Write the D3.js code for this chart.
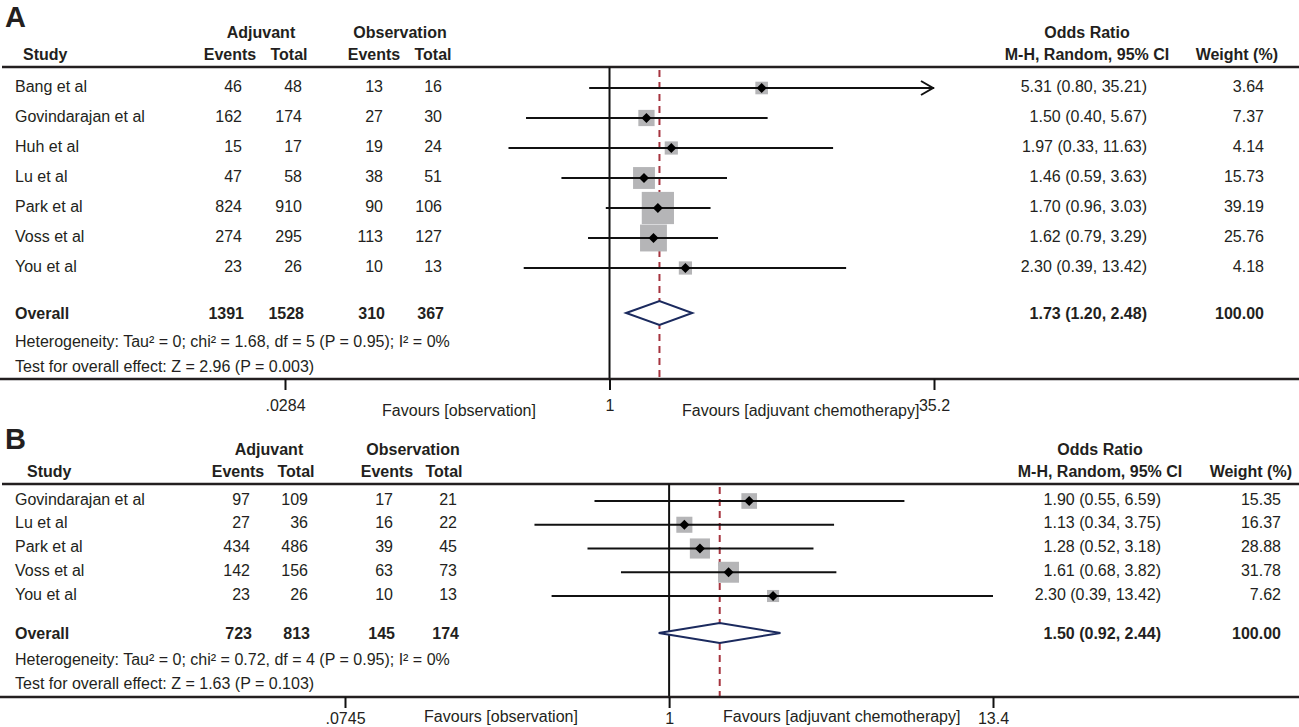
<!DOCTYPE html>
<html>
<head>
    <meta charset="utf-8">
    <title>Forest plots: adjuvant chemotherapy vs observation</title>
    <style>
        body { margin: 0; background: #fff; }
        svg { display: block; font-family: "Liberation Sans", Arial, sans-serif; }
        text { fill: #231f20; }
    </style>
    <script src="https://cdn.jsdelivr.net/npm/d3@7"></script>
</head>
<body>
<script>

    // ---- panel A data ----
    var studiesA = ["Bang et al", "Govindarajan et al", "Huh et al", "Lu et al", "Park et al", "Voss et al", "You et al"]
    var adjEventsA = [46, 162, 15, 47, 824, 274, 23]
    var adjTotalA = [48, 174, 17, 58, 910, 295, 26]
    var obsEventsA = [13, 27, 19, 38, 90, 113, 10]
    var obsTotalA = [16, 30, 24, 51, 106, 127, 13]
    var orA = [5.31, 1.50, 1.97, 1.46, 1.70, 1.62, 2.30]
    var lowerA = [0.80, 0.40, 0.33, 0.59, 0.96, 0.79, 0.39]
    var upperA = [35.21, 5.67, 11.63, 3.63, 3.03, 3.29, 13.42]
    var weightA = [3.64, 7.37, 4.14, 15.73, 39.19, 25.76, 4.18]
    var clippedA = ["Bang et al"]   // CI drawn with an arrow
    var overallA = [1391, 1528, 310, 367]
    var pooledA = [1.73, 1.20, 2.48]
    var ticksA = [0.0284, 1, 35.2]
    var tickLabelsA = [".0284", "1", "35.2"]
    var notesA = ["Heterogeneity: Tau\u00b2 = 0; chi\u00b2 = 1.68, df = 5 (P = 0.95); I\u00b2 = 0%",
        "Test for overall effect: Z = 2.96 (P = 0.003)"]

    // ---- panel B data ----
    var studiesB = ["Govindarajan et al", "Lu et al", "Park et al", "Voss et al", "You et al"]
    var adjEventsB = [97, 27, 434, 142, 23]
    var adjTotalB = [109, 36, 486, 156, 26]
    var obsEventsB = [17, 16, 39, 63, 10]
    var obsTotalB = [21, 22, 45, 73, 13]
    var orB = [1.90, 1.13, 1.28, 1.61, 2.30]
    var lowerB = [0.55, 0.34, 0.52, 0.68, 0.39]
    var upperB = [6.59, 3.75, 3.18, 3.82, 13.42]
    var weightB = [15.35, 16.37, 28.88, 31.78, 7.62]
    var clippedB = []
    var overallB = [723, 813, 145, 174]
    var pooledB = [1.50, 0.92, 2.44]
    var ticksB = [0.0745, 1, 13.4]
    var tickLabelsB = [".0745", "1", "13.4"]
    var notesB = ["Heterogeneity: Tau\u00b2 = 0; chi\u00b2 = 0.72, df = 4 (P = 0.95); I\u00b2 = 0%",
        "Test for overall effect: Z = 1.63 (P = 0.103)"]

    var width = 1299,
        height = 727,
        fontSize = 16

    var svg = d3.select('body').append('svg')
        .attr('width', width)
        .attr('height', height)

    var f2 = d3.format(".2f")

    function label(g, x, y, txt, anchor, bold, size) {
        return g.append('text')
            .attr('x', x)
            .attr('y', y)
            .attr('dy', '0.35em')
            .attr('text-anchor', anchor || 'start')
            .attr('font-size', size || fontSize)
            .attr('font-weight', bold ? 'bold' : 'normal')
            .text(txt)
    }

    function drawPanel(p) {
        var g = svg.append('g')
        var c = p.cols

        var x = d3.scaleLog().domain([p.ticks[0], p.ticks[2]]).range(p.xRange)
        var y = d3.scalePoint().domain(p.studies).range(p.rowRange)
        var side = d3.scaleSqrt().domain([0, p.wMax]).range(p.sideRange)

        // headers
        label(g, 5, p.letterY, p.letter, 'start', true, 29)
        label(g, c.adjHead, p.head1, "Adjuvant", 'middle', true)
        label(g, c.obsHead, p.head1, "Observation", 'middle', true)
        label(g, c.orHead, p.head1, "Odds Ratio", 'middle', true)
        label(g, c.studyHead, p.head2, "Study", 'start', true)
        label(g, c.evHead, p.head2, "Events", 'middle', true)
        label(g, c.totHead, p.head2, "Total", 'middle', true)
        label(g, c.oevHead, p.head2, "Events", 'middle', true)
        label(g, c.otHead, p.head2, "Total", 'middle', true)
        label(g, c.orHead, p.head2, "M-H, Random, 95% CI", 'middle', true)
        label(g, c.wHead, p.head2, "Weight (%)", 'end', true)

        g.append('line')
            .attr('x1', 2).attr('x2', width)
            .attr('y1', p.headLine).attr('y2', p.headLine)
            .attr('stroke', '#231f20')
            .attr('stroke-width', 2.5)

        // table rows
        p.studies.forEach(function (s, i) {
            var ty = y(s) - 2
            label(g, c.name, ty, s)
            label(g, c.adjE, ty, p.adjEvents[i], 'end')
            label(g, c.adjT, ty, p.adjTotal[i], 'end')
            label(g, c.obsE, ty, p.obsEvents[i], 'end')
            label(g, c.obsT, ty, p.obsTotal[i], 'end')
            label(g, c.or, ty, f2(p.or[i]) + " (" + f2(p.lower[i]) + ", " + f2(p.upper[i]) + ")", 'end')
            label(g, c.w, ty, f2(p.weight[i]), 'end')
        })

        var oy = p.overallY
        label(g, c.name, oy, "Overall", 'start', true)
        label(g, c.adjE + 2, oy, p.overall[0], 'end', true)
        label(g, c.adjT + 2, oy, p.overall[1], 'end', true)
        label(g, c.obsE + 2, oy, p.overall[2], 'end', true)
        label(g, c.obsT + 2, oy, p.overall[3], 'end', true)
        label(g, c.or, oy, f2(p.pooled[0]) + " (" + f2(p.pooled[1]) + ", " + f2(p.pooled[2]) + ")", 'end', true)
        label(g, c.w, oy, "100.00", 'end', true)
        label(g, c.name, p.notesY[0], p.notes[0])
        label(g, c.name, p.notesY[1], p.notes[1])

        // no-effect line and pooled estimate line
        g.append('line')
            .attr('x1', x(1)).attr('x2', x(1))
            .attr('y1', p.headLine).attr('y2', p.axisY)
            .attr('stroke', '#111')
            .attr('stroke-width', 2)
        g.append('line')
            .attr('x1', x(p.pooled[0])).attr('x2', x(p.pooled[0]))
            .attr('y1', p.headLine + 3).attr('y2', p.axisY)
            .attr('stroke', '#a6343f')
            .attr('stroke-width', 2)
            .attr('stroke-dasharray', '7,5')

        var rows = g.selectAll('g.study')
            .data(p.studies.map(function (s, i) {
                return { s: s, or: p.or[i], lo: p.lower[i], hi: p.upper[i], w: p.weight[i] }
            }))
            .enter().append('g')
            .attr('class', 'study')

        rows.append('rect')
            .attr('x', function (d) { return x(d.or) - side(d.w) / 2 })
            .attr('y', function (d) { return y(d.s) - side(d.w) / 2 })
            .attr('width', function (d) { return side(d.w) })
            .attr('height', function (d) { return side(d.w) })
            .attr('fill', '#b5b5b7')

        rows.append('line')
            .attr('x1', function (d) { return x(Math.max(d.lo, p.ticks[0])) })
            .attr('x2', function (d) { return x(Math.min(d.hi, p.ticks[2])) })
            .attr('y1', function (d) { return y(d.s) })
            .attr('y2', function (d) { return y(d.s) })
            .attr('stroke', '#111')
            .attr('stroke-width', 2)

        // arrow where the CI runs off the scale
        rows.filter(function (d) { return p.clipped.indexOf(d.s) >= 0 })
            .append('path')
            .attr('d', function (d) {
                var tx = x(p.ticks[2]) - 1, ty = y(d.s)
                return "M" + (tx - 12) + "," + (ty - 7) + "L" + tx + "," + ty + "L" + (tx - 12) + "," + (ty + 7)
            })
            .attr('fill', 'none')
            .attr('stroke', '#111')
            .attr('stroke-width', 2)

        rows.append('path')
            .attr('d', function (d) {
                var px = x(d.or), py = y(d.s), r = 5
                return "M" + (px - r) + "," + py + "L" + px + "," + (py - r) + "L" + (px + r) + "," + py + "L" + px + "," + (py + r) + "Z"
            })
            .attr('fill', '#000')

        // pooled diamond
        g.append('path')
            .attr('d', "M" + x(p.pooled[1]) + "," + oy +
                "L" + x(p.pooled[0]) + "," + (oy - p.diamondH) +
                "L" + x(p.pooled[2]) + "," + oy +
                "L" + x(p.pooled[0]) + "," + (oy + p.diamondH) + "Z")
            .attr('fill', '#fff')
            .attr('stroke', '#1b2a5e')
            .attr('stroke-width', 2)

        // x axis
        g.append('line')
            .attr('x1', 0).attr('x2', width)
            .attr('y1', p.axisY).attr('y2', p.axisY)
            .attr('stroke', '#231f20')
            .attr('stroke-width', 2.5)

        var axis = d3.axisBottom(x)
            .tickValues(p.ticks)
            .tickFormat(function (d, i) { return p.tickLabels[i] })
            .tickSize(11)
            .tickPadding(p.tickPad)

        var ax = g.append('g')
            .attr('transform', 'translate(0,' + p.axisY + ')')
            .call(axis)
        ax.select('.domain').remove()
        ax.selectAll('.tick line').attr('stroke', '#111').attr('stroke-width', 2)
        ax.selectAll('.tick text')
            .attr('font-size', fontSize)
            .attr('font-family', '"Liberation Sans", Arial, sans-serif')
            .attr('fill', '#231f20')

        label(g, p.favLeft, p.favY, "Favours [observation]", 'middle')
        label(g, p.favRight, p.favY, "Favours [adjuvant chemotherapy]", 'start')
    }

    drawPanel({
        letter: "A", letterY: 17,
        studies: studiesA, adjEvents: adjEventsA, adjTotal: adjTotalA,
        obsEvents: obsEventsA, obsTotal: obsTotalA,
        or: orA, lower: lowerA, upper: upperA, weight: weightA, clipped: clippedA,
        overall: overallA, pooled: pooledA, notes: notesA,
        ticks: ticksA, tickLabels: tickLabelsA,
        head1: 32, head2: 54, headLine: 67,
        rowRange: [88, 268], overallY: 313, notesY: [341, 366], axisY: 379,
        xRange: [285, 934], wMax: 40, sideRange: [4, 32.5], diamondH: 12, tickPad: 10,
        favLeft: 459, favRight: 682, favY: 410,
        cols: { name: 15, studyHead: 23, adjE: 242, adjT: 302, obsE: 383, obsT: 442,
            adjHead: 261, obsHead: 400, evHead: 230, totHead: 289, oevHead: 374, otHead: 433,
            or: 1147, w: 1264, orHead: 1087, wHead: 1278 }
    })

    drawPanel({
        letter: "B", letterY: 439,
        studies: studiesB, adjEvents: adjEventsB, adjTotal: adjTotalB,
        obsEvents: obsEventsB, obsTotal: obsTotalB,
        or: orB, lower: lowerB, upper: upperB, weight: weightB, clipped: clippedB,
        overall: overallB, pooled: pooledB, notes: notesB,
        ticks: ticksB, tickLabels: tickLabelsB,
        head1: 449, head2: 471, headLine: 484,
        rowRange: [501, 596], overallY: 633, notesY: [659, 683], axisY: 697,
        xRange: [345, 993], wMax: 32, sideRange: [3.6, 21], diamondH: 10, tickPad: 5,
        favLeft: 501, favRight: 723, favY: 716,
        cols: { name: 15, studyHead: 27, adjE: 250, adjT: 308, obsE: 393, obsT: 457,
            adjHead: 269, obsHead: 413, evHead: 238, totHead: 296, oevHead: 387, otHead: 444,
            or: 1161, w: 1281, orHead: 1100, wHead: 1292 }
    })

</script>
</body>
</html>
